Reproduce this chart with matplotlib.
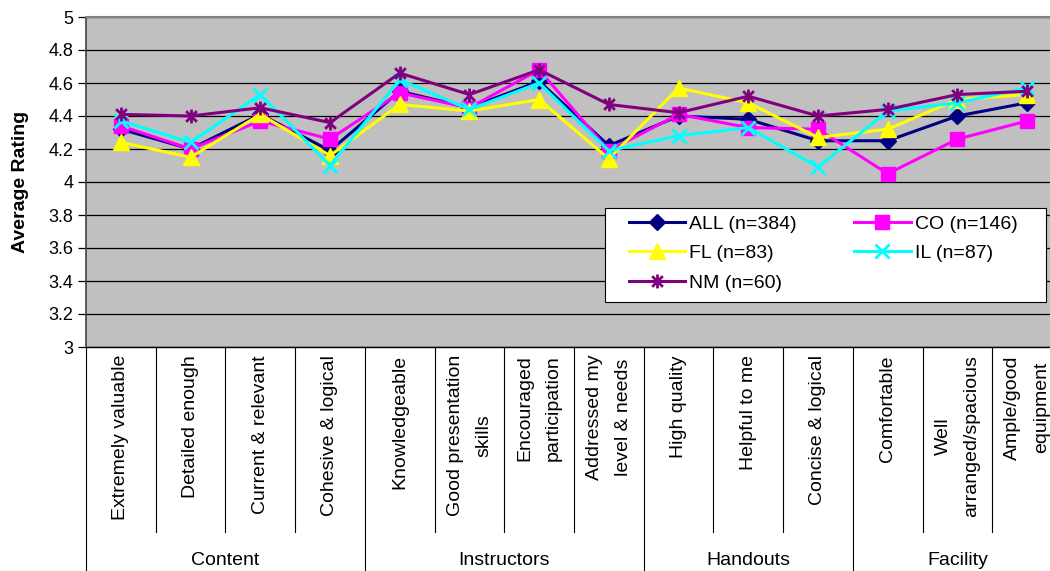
import numpy as np
import matplotlib
matplotlib.use("Agg")
import matplotlib.pyplot as plt
from matplotlib.path import Path
from matplotlib.patches import Rectangle
from matplotlib.transforms import blended_transform_factory

plt.rcParams["font.family"] = ["Liberation Sans", "DejaVu Sans"]

categories = ["Extremely valuable", "Detailed enough", "Current & relevant",
              "Cohesive & logical", "Knowledgeable", "Good presentation\nskills",
              "Encouraged\nparticipation", "Addressed my\nlevel & needs",
              "High quality", "Helpful to me", "Concise & logical",
              "Comfortable", "Well\narranged/spacious", "Ample/good\nequipment"]
groups = ["Content", "Instructors", "Handouts", "Facility"]
group_sizes = [4, 4, 3, 3]

all_vals = [4.32, 4.20, 4.41, 4.19, 4.55, 4.45, 4.61, 4.22, 4.40, 4.38, 4.25, 4.25, 4.40, 4.48]
co_vals = [4.34, 4.20, 4.37, 4.26, 4.54, 4.45, 4.68, 4.19, 4.41, 4.33, 4.32, 4.05, 4.26, 4.37]
fl_vals = [4.24, 4.15, 4.41, 4.16, 4.47, 4.43, 4.50, 4.14, 4.57, 4.48, 4.27, 4.32, 4.50, 4.53]
il_vals = [4.37, 4.24, 4.53, 4.10, 4.62, 4.44, 4.60, 4.19, 4.28, 4.33, 4.09, 4.43, 4.48, 4.57]
nm_vals = [4.41, 4.40, 4.45, 4.36, 4.66, 4.53, 4.68, 4.47, 4.42, 4.52, 4.40, 4.44, 4.53, 4.55]

series_labels = ["ALL (n=384)", "CO (n=146)", "FL (n=83)", "IL (n=87)", "NM (n=60)"]

# x with a vertical bar through it
star = Path([(-1, -1), (1, 1), (-1, 1), (1, -1), (0, -1.3), (0, 1.3)],
            [Path.MOVETO, Path.LINETO, Path.MOVETO, Path.LINETO, Path.MOVETO, Path.LINETO])

styles = [
    dict(color="#000080", marker="D", ms=8),
    dict(color="#FF00FF", marker="s", ms=9.5),
    dict(color="#FFFF00", marker="^", ms=11),
    dict(color="#00FFFF", marker="x", ms=10, mew=2),
    dict(color="#800080", marker=star, ms=10, mew=2),
]

W, H = 1050, 571
fig = plt.figure(figsize=(W / 100, H / 100), dpi=100)
# plot area runs slightly past the right edge of the figure
left, right, top, bottom = 86, 1062, 17, 347
ax = fig.add_axes([left / W, 1 - bottom / H, (right - left) / W, (bottom - top) / H])
ax.set_facecolor("#C0C0C0")

x = np.arange(len(categories)) + 0.5
handles = []
for vals, st, lab in zip([all_vals, co_vals, fl_vals, il_vals, nm_vals], styles, series_labels):
    h, = ax.plot(x, vals, lw=2.2, label=lab, clip_on=False, **st)
    handles.append(h)

ax.set_xlim(0, len(categories))
ax.set_ylim(3, 5)
yt = np.arange(3, 5.01, 0.2)
ax.set_yticks(yt)
ax.set_yticklabels([f"{v:g}" for v in yt], fontsize=13)
ax.set_xticks([])
ax.grid(axis="y", color="black", lw=0.9)
ax.set_axisbelow(True)
ax.tick_params(axis="y", direction="out", length=6, width=0.9, pad=3)
ax.set_ylabel("Average Rating", fontsize=14, fontweight="bold", labelpad=14)

for s in ["top", "right"]:
    ax.spines[s].set_color("#808080")
    ax.spines[s].set_linewidth(1.5)
ax.spines["left"].set_color("#404040")
ax.spines["left"].set_linewidth(1.2)
ax.spines["bottom"].set_color("black")
ax.spines["bottom"].set_linewidth(1)

# category and group labels under the axis
ah = bottom - top
trans = blended_transform_factory(ax.transData, ax.transAxes)
for xi, cat in zip(x, categories):
    ax.text(xi, -(355 - bottom) / ah, cat, rotation=90, ha="center", va="top",
            multialignment="center", fontsize=14, transform=trans, linespacing=1.9)

cat_bottom = -(532 - bottom) / ah
grp_bottom = -(580 - bottom) / ah
edges = np.cumsum([0] + group_sizes)
for b in range(0, len(categories) + 1):
    yb = grp_bottom if b in edges else cat_bottom
    ax.plot([b, b], [0, yb], color="black", lw=0.8, transform=trans, clip_on=False)

for g, lo, hi in zip(groups, edges[:-1], edges[1:]):
    ax.text((lo + hi) / 2, -(565 - bottom) / ah, g, ha="center", va="baseline",
            fontsize=14, transform=trans)

# legend box drawn separately so the entries can sit inset from its edge
fig.patches.append(Rectangle((605 / W, 1 - 302 / H), (1046 - 605) / W, (302 - 208) / H,
                             transform=fig.transFigure, facecolor="white",
                             edgecolor="black", lw=0.8, zorder=5))
order = [0, 2, 4, 1, 3]
leg = fig.legend([handles[i] for i in order], [series_labels[i] for i in order],
                 ncol=2, loc="upper left", bbox_to_anchor=(629 / W, 1 - 215 / H),
                 frameon=False, fontsize=14, handlelength=2.9, columnspacing=2.95,
                 labelspacing=0.62, borderaxespad=0, handletextpad=0.2, borderpad=0)
leg.set_zorder(6)

fig.savefig("out.png", dpi=100)
